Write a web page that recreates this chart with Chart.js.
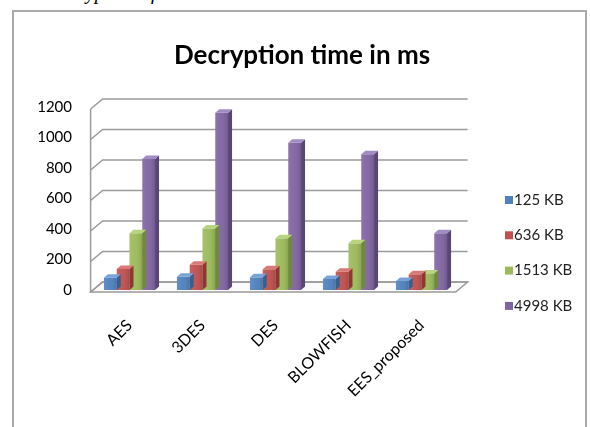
<!DOCTYPE html>
<html>
<head>
<meta charset="utf-8">
<script src="https://cdn.jsdelivr.net/npm/chart.js@4/dist/chart.umd.min.js"></script>
<style>
  html, body { margin: 0; padding: 0; background: #fff; width: 590px; height: 427px; overflow: hidden; position: relative; }
  #caption { position: absolute; left: 46px; top: -19px; font: italic 20px "Liberation Serif", serif; color: #000; white-space: nowrap; }
  #wrap { position: absolute; left: 0; top: 0; width: 590px; height: 427px; }
  #frame { position: absolute; left: 12px; top: 10px; width: 575px; height: 440px; border: 2px solid #a9a9a9; box-sizing: border-box; pointer-events: none; }
</style>
</head>
<body>
<div id="caption">Decryption of</div>
<div id="wrap"><canvas id="c" width="590" height="427"></canvas></div>
<div id="frame"></div>
<script>
// Algorithms compared and file sizes used
const categories = ['AES', '3DES', 'DES', 'BLOWFISH', 'EES_proposed'];
const seriesNames = ['125 KB', '636 KB', '1513 KB', '4998 KB'];
const chartTitle = 'Decryption time in ms';

// Decryption time (ms) per file size
const kb125  = [81, 87, 83, 72, 59];
const kb636  = [138, 166, 136, 120, 103];
const kb1513 = [372, 404, 339, 306, 109];
const kb4998 = [859, 1163, 965, 890, 372];

// Value axis
const yMin = 0, yMax = 1200, yStep = 200;

// Face colours: front, top, side
const frontColors = ['#4f81bd', '#c0504d', '#9bbb59', '#8064a2'];
const topColors   = ['#7aa3d8', '#d97a77', '#b8d47f', '#a08bc2'];
const sideColors  = ['#375f8f', '#8f3532', '#6f8a3b', '#5a4577'];

const seriesValues = [kb125, kb636, kb1513, kb4998];

// Wall depth: bar-face plane to back wall, and bar-face plane to front edge
const WALL_BACK = { dx: 9.6, dy: -8 };
const WALL_FRONT = { dx: -2.4, dy: 2 };
// Depth of each column
const BAR_DEPTH = { dx: 4, dy: -3.5 };

const FONT = 'Lato, "Open Sans", sans-serif';

function poly(ctx, pts, fill, stroke) {
  ctx.beginPath();
  ctx.moveTo(pts[0][0], pts[0][1]);
  for (let i = 1; i < pts.length; i++) ctx.lineTo(pts[i][0], pts[i][1]);
  ctx.closePath();
  if (fill) { ctx.fillStyle = fill; ctx.fill(); }
  if (stroke) { ctx.strokeStyle = stroke; ctx.stroke(); }
}

// Walls, floor and grid lines of the 3-D plot box
const walls3d = {
  id: 'walls3d',
  beforeDatasetsDraw(chart) {
    const { ctx, chartArea: a, scales: { y } } = chart;
    const y0 = y.getPixelForValue(yMin);
    const yTop = y.getPixelForValue(yMax);
    ctx.save();
    ctx.lineWidth = 1.5;
    // floor
    poly(ctx, [
      [a.left + WALL_FRONT.dx, y0 + WALL_FRONT.dy],
      [a.right + WALL_FRONT.dx, y0 + WALL_FRONT.dy],
      [a.right + WALL_BACK.dx, y0 + WALL_BACK.dy],
      [a.left + WALL_BACK.dx, y0 + WALL_BACK.dy]
    ], '#fbfbfb', '#9a9a9a');
    // back-wall grid lines and left-wall diagonals
    ctx.strokeStyle = '#9a9a9a';
    for (let v = yMin; v <= yMax; v += yStep) {
      const py = y.getPixelForValue(v);
      ctx.beginPath();
      ctx.moveTo(a.left + WALL_FRONT.dx, py + WALL_FRONT.dy);
      ctx.lineTo(a.left + WALL_BACK.dx, py + WALL_BACK.dy);
      ctx.lineTo(a.right + WALL_BACK.dx, py + WALL_BACK.dy);
      ctx.stroke();
    }
    // front edge of the left wall
    ctx.beginPath();
    ctx.moveTo(a.left + WALL_FRONT.dx, yTop + WALL_FRONT.dy);
    ctx.lineTo(a.left + WALL_FRONT.dx, y0 + WALL_FRONT.dy);
    ctx.stroke();
    ctx.restore();
  },
  afterDatasetDraw(chart, args) {
    const { ctx } = chart;
    const di = args.index;
    ctx.save();
    args.meta.data.forEach((bar) => {
      const p = bar.getProps(['x', 'y', 'base', 'width'], true);
      const l = p.x - p.width / 2, r = p.x + p.width / 2;
      const { dx, dy } = BAR_DEPTH;
      // shading across the front face
      const g = ctx.createLinearGradient(l, 0, r, 0);
      g.addColorStop(0, 'rgba(255,255,255,0.10)');
      g.addColorStop(0.45, 'rgba(255,255,255,0.04)');
      g.addColorStop(1, 'rgba(0,0,0,0.12)');
      ctx.fillStyle = g;
      ctx.fillRect(l, p.y, p.width, p.base - p.y);
      // right side face
      poly(ctx, [[r, p.y], [r + dx, p.y + dy], [r + dx, p.base + dy], [r, p.base]], sideColors[di]);
      // top face
      poly(ctx, [[l, p.y], [l + dx, p.y + dy], [r + dx, p.y + dy], [r, p.y]], topColors[di]);
    });
    ctx.restore();
  }
};

// Title and series key
const titleAndKey = {
  id: 'titleAndKey',
  afterDraw(chart) {
    const { ctx } = chart;
    ctx.save();
    ctx.fillStyle = '#000';
    ctx.font = 'bold 26px ' + FONT;
    ctx.textAlign = 'center';
    ctx.textBaseline = 'alphabetic';
    ctx.fillText(chartTitle, 302, 64);

    ctx.font = '15px ' + FONT;
    ctx.textBaseline = 'middle';
    ctx.textAlign = 'left';
    seriesNames.forEach((name, i) => {
      const yc = 200 + i * 35.3;
      ctx.fillStyle = frontColors[i];
      ctx.fillRect(505, yc - 4, 8, 8);
      ctx.fillStyle = '#222';
      ctx.fillText(name, 514, yc);
    });
    ctx.restore();
  }
};

new Chart(document.getElementById('c'), {
  type: 'bar',
  data: {
    labels: categories,
    datasets: seriesNames.map((name, i) => ({
      label: name,
      data: seriesValues[i],
      backgroundColor: frontColors[i],
      borderWidth: 0,
      categoryPercentage: 0.7,
      barPercentage: 1.0
    }))
  },
  options: {
    responsive: false,
    animation: false,
    events: [],
    layout: { padding: { left: 0, right: 132, top: 107, bottom: 0 } },
    plugins: {
      legend: { display: false },
      tooltip: { enabled: false },
      title: { display: false }
    },
    scales: {
      x: {
        grid: { display: false },
        border: { display: false },
        ticks: { minRotation: 45, maxRotation: 45, padding: 18, color: '#000', font: { family: FONT, size: 16 } },
        afterFit(s) { s.height = 137; }
      },
      y: {
        min: yMin,
        max: yMax,
        grid: { display: false },
        border: { display: false },
        ticks: {
          stepSize: yStep, padding: 13, color: '#000', font: { family: FONT, size: 15 },
          callback: (v) => String(v)
        },
        afterFit(s) { s.width = 93; }
      }
    }
  },
  plugins: [walls3d, titleAndKey]
});
</script>
</body>
</html>
